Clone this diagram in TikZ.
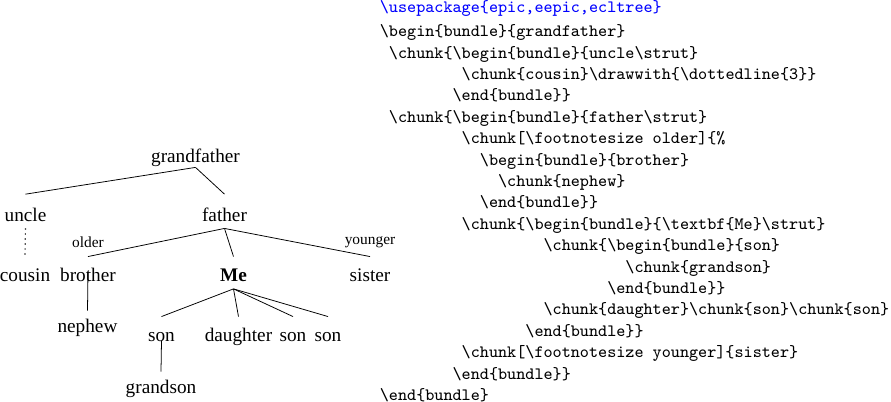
\documentclass[tikz,border=0pt]{standalone}
\usepackage{fontspec}
\setmainfont{Liberation Serif}
\usepackage{tikz}

\newcommand\bs{\textbackslash}
\newcommand\ind[1]{\hspace*{#1\dimexpr0.525em\relax}}

\tikzset{
  kin/.style={inner sep=0pt, anchor=base, text height=12.5pt, text depth=3.4pt},
  lab/.style={inner sep=0pt, anchor=base, font=\footnotesize},
  code/.style={inner sep=0pt, anchor=base west, align=left, font=\ttfamily\fontsize{9}{11.12}\selectfont}
}

\begin{document}
\begin{tikzpicture}[x=0.5195pt,y=-0.5195pt]
  \useasboundingbox (0,0) rectangle (891,402);

  %family
  \node[kin,text depth=2.6pt] (gf) at (195.5,162) {grandfather};
  \node[kin,text height=14pt] (uncle) at (25.5,221.5) {uncle};
  \node[kin,text height=14pt] (father) at (224.5,221.5) {father};
  \node[kin] (cousin) at (25,281) {cousin};
  \node[kin] (brother) at (88,281) {brother};
  \node[kin,text depth=3.9pt] (me) at (233.5,281) {\textbf{Me}};
  \node[kin] (sister) at (370,281) {sister};
  \node[kin,text height=11.2pt] (nephew) at (87.5,332.5) {nephew};
  \node[kin] (son1) at (161.5,341) {son};
  \node[kin] (daughter) at (238.5,341) {daughter};
  \node[kin] (son2) at (293,341) {son};
  \node[kin] (son3) at (328,341) {son};
  \node[kin,text height=10.9pt] (grandson) at (161,393) {grandson};

  %labels
  \node[lab] (older) at (88,247.5) {older};
  \node[lab] (younger) at (370,244.5) {younger};

  %branches
  \draw (gf.south) -- (uncle.north);
  \draw (gf.south) -- (father.north);
  \draw[dotted,line width=0.6pt] (uncle.south) -- (cousin.north);
  \draw (father.south) -- (brother.north);
  \draw (father.south) -- (me.north);
  \draw (father.south) -- (sister.north);
  \draw (brother.center) -- (nephew.north);
  \draw (me.south) -- (son1.north);
  \draw (me.south) -- (daughter.north);
  \draw (me.south) -- (son2.north);
  \draw (me.south) -- (son3.north);
  \draw (son1.base) -- (grandson.north);

  %source (base is the last line)
  \node[code,text=blue] (pkg) at (379.5,12.5) {\bs usepackage\{epic,eepic,ecltree\}};
  \node[code] (listing) at (379.5,400.5) {\bs begin\{bundle\}\{grandfather\}\\
    \ind{1}\bs chunk\{\bs begin\{bundle\}\{uncle\bs strut\}\\
    \ind{9}\bs chunk\{cousin\}\bs drawwith\{\bs dottedline\{3\}\}\\
    \ind{8}\bs end\{bundle\}\}\\
    \ind{1}\bs chunk\{\bs begin\{bundle\}\{father\bs strut\}\\
    \ind{9}\bs chunk[\bs footnotesize older]\{\%\\
    \ind{11}\bs begin\{bundle\}\{brother\}\\
    \ind{13}\bs chunk\{nephew\}\\
    \ind{11}\bs end\{bundle\}\}\\
    \ind{9}\bs chunk\{\bs begin\{bundle\}\{\bs textbf\{Me\}\bs strut\}\\
    \ind{18}\bs chunk\{\bs begin\{bundle\}\{son\}\\
    \ind{27}\bs chunk\{grandson\}\\
    \ind{25}\bs end\{bundle\}\}\\
    \ind{18}\bs chunk\{daughter\}\bs chunk\{son\}\bs chunk\{son\}\\
    \ind{16}\bs end\{bundle\}\}\\
    \ind{9}\bs chunk[\bs footnotesize younger]\{sister\}\\
    \ind{8}\bs end\{bundle\}\}\\
    \bs end\{bundle\}};
\end{tikzpicture}
\end{document}
